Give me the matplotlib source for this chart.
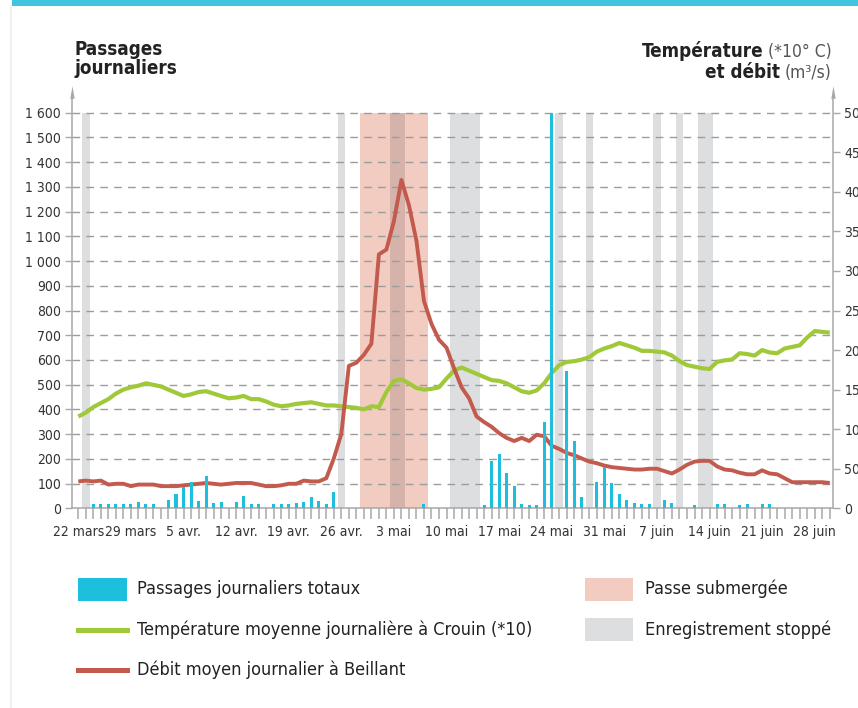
import numpy as np
import matplotlib
matplotlib.use("Agg")
import matplotlib.pyplot as plt
from matplotlib.patches import Rectangle
from matplotlib.lines import Line2D
from matplotlib.transforms import Affine2D
from matplotlib import font_manager

# ---------------- data ----------------
date_labels = ["22 mars", "29 mars", "5 avr.", "12 avr.", "19 avr.", "26 avr.",
               "3 mai", "10 mai", "17 mai", "24 mai", "31 mai", "7 juin",
               "14 juin", "21 juin", "28 juin"]
label_days = [0, 7, 14, 21, 28, 35, 42, 49, 56, 63, 70, 77, 84, 91, 98]

# daily passages (day 0 = 22 mars)
passages = [0, 0, 17, 17, 17, 17, 17, 17, 26, 17,
            17, 0, 33, 58, 85, 105, 30, 131, 22, 24,
            0, 24, 50, 18, 18, 0, 18, 18, 18, 22,
            25, 45, 30, 18, 66, 0, 0, 0, 0, 0,
            0, 0, 0, 0, 0, 0, 18, 0, 0, 0,
            0, 0, 0, 0, 13, 191, 220, 143, 90, 17,
            13, 13, 350, 1600, 0, 556, 273, 46, 0, 107,
            168, 101, 58, 34, 22, 17, 17, 0, 34, 23,
            0, 0, 13, 0, 0, 17, 17, 0, 13, 17,
            0, 17, 17, 0, 0, 0, 0, 0, 0, 0, 0]

# temperature (*10 °C), right axis
temperature_x10 = [116, 121, 128, 133, 138, 145, 150, 153, 155, 158,
                   156, 154, 150, 146, 142, 144, 147, 148, 145, 142,
                   139, 140, 142, 138, 138, 135, 131, 129, 130, 132,
                   133, 134, 132, 130, 130, 129, 128, 127, 125, 129,
                   128, 147, 161, 163, 158, 152, 150, 151, 153, 164,
                   174, 178, 174, 170, 166, 162, 161, 158, 153, 148,
                   146, 149, 158, 171, 181, 185, 186, 188, 191, 198,
                   202, 205, 209, 206, 203, 199, 199, 198, 197, 193,
                   186, 181, 179, 177, 176, 185, 187, 188, 196, 195,
                   193, 200, 197, 196, 202, 204, 206, 216, 224, 223, 222]

# flow (m3/s), right axis
debit = [34, 35, 34, 35, 30, 31, 31, 28, 30, 30,
         30, 28, 28, 28, 29, 30, 31, 32, 31, 30,
         31, 32, 32, 32, 30, 28, 28, 29, 31, 31,
         35, 34, 34, 38, 63, 94, 180, 184, 194, 208,
         321, 327, 363, 415, 383, 338, 262, 233, 213, 203,
         177, 153, 139, 116, 109, 103, 95, 89, 85, 89,
         85, 93, 91, 79, 75, 70, 67, 63, 59, 57,
         54, 52, 51, 50, 49, 49, 50, 50, 47, 44,
         49, 55, 59, 60, 60, 53, 49, 48, 45, 43,
         43, 48, 44, 43, 38, 33, 33, 33, 33, 33, 32]

stopped_days = [1, 35, 42, 43, 50, 51, 52, 53, 64, 68, 77, 80, 83, 84]
submerged_days = [38, 39, 40, 41, 42, 43, 44, 45, 46]

left_ticks = [0, 100, 200, 300, 400, 500, 600, 700, 800, 900, 1000,
              1100, 1200, 1300, 1400, 1500, 1600]
left_tick_labels = ["0", "100", "200", "300", "400", "500", "600", "700", "800",
                    "900", "1 000", "1 100", "1 200", "1 300", "1 400", "1 500", "1 600"]
right_ticks = [0, 50, 100, 150, 200, 250, 300, 350, 400, 450, 500]
RATIO = 3.2  # left units per right unit (1600 <-> 500)

# ---------------- style ----------------
names = {f.name for f in font_manager.fontManager.ttflist}
if "Liberation Sans Narrow" in names:
    FAM, STRETCH = "Liberation Sans Narrow", "normal"
else:
    FAM, STRETCH = "DejaVu Sans", "condensed"
plt.rcParams["font.family"] = [FAM, "DejaVu Sans"]
plt.rcParams["font.stretch"] = STRETCH

CYAN = "#1EBFDC"
BANNER = "#40C4E0"
GREEN = "#A0C93A"
RED = "#C35A4E"
PINK = "#F2CCC0"
GREY = "#DDDEE0"
OVERLAP = "#D5B3AB"
GRID = "#9C9C9C"
SPINE = "#A8A8A8"
TXT = "#222222"

W, H = 858, 708
fig = plt.figure(figsize=(W / 100, H / 100), dpi=100)


def fx(px):
    return px / W


def fy(py):
    return 1 - py / H


ax = fig.add_axes([fx(72.3), fy(508.3), (833.3 - 72.3) / W, (508.3 - 88) / H])
ax.set_xlim(-0.8, 100.47)
ax.set_ylim(0, 1700)

days = np.arange(len(passages))


def runs(values):
    values = sorted(values)
    out = []
    start = prev = values[0]
    for v in values[1:]:
        if v == prev + 1:
            prev = v
            continue
        out.append((start, prev))
        start = prev = v
    out.append((start, prev))
    return out


for a, b in runs(stopped_days):
    ax.add_patch(Rectangle((a - 0.5, 0), b - a + 1, 1600, facecolor=GREY, lw=0, zorder=0.5))
for a, b in runs(submerged_days):
    ax.add_patch(Rectangle((a - 0.5, 0), b - a + 1, 1600, facecolor=PINK, lw=0, zorder=0.6))
both = sorted(set(stopped_days) & set(submerged_days))
if both:
    for a, b in runs(both):
        ax.add_patch(Rectangle((a - 0.5, 0), b - a + 1, 1600, facecolor=OVERLAP, lw=0, zorder=0.7))

for v in left_ticks[1:]:
    ax.axhline(v, color=GRID, lw=1.0, ls=(0, (5.5, 4.5)), zorder=1)

tr = Affine2D().scale(1, RATIO) + ax.transData
ax.plot(days, temperature_x10, transform=tr, color=GREEN, lw=3.0, zorder=3,
        solid_joinstyle="round", solid_capstyle="butt")
ax.plot(days, debit, transform=tr, color=RED, lw=2.8, zorder=3,
        solid_joinstyle="round", solid_capstyle="butt")
ax.bar(days, passages, width=0.4, color=CYAN, lw=0, zorder=4)

# axes styling
for s in ("top", "right"):
    ax.spines[s].set_visible(False)
for s in ("left", "bottom"):
    ax.spines[s].set_color(SPINE)
    ax.spines[s].set_linewidth(1.1)
ax.spines["left"].set_bounds(0, 1660)

ax.set_yticks(left_ticks, labels=left_tick_labels)
ax.tick_params(axis="y", direction="out", length=5, width=1, color=SPINE,
               labelsize=10, labelcolor="#333333", pad=3)
ax.set_xticks(label_days, labels=date_labels)
ax.set_xticks(days, minor=True)
ax.tick_params(axis="x", which="both", direction="out", length=8, width=1.1,
               color=SPINE, labelsize=10, labelcolor="#333333", pad=4)

sec = ax.secondary_yaxis("right", functions=(lambda v: v / RATIO, lambda v: v * RATIO))
sec.set_yticks(right_ticks)
sec.spines["right"].set_color(SPINE)
sec.spines["right"].set_linewidth(1.1)
sec.spines["right"].set_bounds(0, 1660 / RATIO)
sec.tick_params(axis="y", direction="out", length=5, width=1, color=SPINE,
                labelsize=10, labelcolor="#333333", pad=3)

arrow = [(-0.35, -1), (0.35, -1), (0, 1)]
for xe in ax.get_xlim():
    ax.plot([xe], [1682], marker=arrow, ms=9, color=SPINE, mew=0,
            clip_on=False, zorder=5)

# ---------------- headers ----------------
fig.text(fx(74), fy(40), "Passages\njournaliers", ha="left", va="top",
         fontsize=13.5, fontweight="bold", color=TXT, linespacing=1.0)

renderer = fig.canvas.get_renderer()
for line_bold, line_reg, base in (("Température", "(*10° C)", 57),
                                  ("et débit", "(m³/s)", 78)):
    t = fig.text(fx(832), fy(base), line_reg, ha="right", va="baseline",
                 fontsize=12.5, color="#555555")
    bb = t.get_window_extent(renderer)
    fig.text(bb.x0 / W - 5 / W, fy(base), line_bold, ha="right", va="baseline",
             fontsize=13.5, fontweight="bold", color=TXT)

# ---------------- legend ----------------
LEG_FS = 13
fig.add_artist(Rectangle((fx(78), fy(601)), 49 / W, 23 / H, facecolor=CYAN, lw=0,
                         transform=fig.transFigure))
fig.text(fx(137), fy(589), "Passages journaliers totaux", va="center",
         fontsize=LEG_FS, color=TXT)
fig.add_artist(Line2D([fx(78), fx(127)], [fy(630), fy(630)], color=GREEN, lw=3.6,
                      transform=fig.transFigure))
fig.text(fx(137), fy(630), "Température moyenne journalière à Crouin (*10)", va="center",
         fontsize=LEG_FS, color=TXT)
fig.add_artist(Line2D([fx(78), fx(127)], [fy(670), fy(670)], color=RED, lw=3.6,
                      transform=fig.transFigure))
fig.text(fx(137), fy(670), "Débit moyen journalier à Beillant", va="center",
         fontsize=LEG_FS, color=TXT)
fig.add_artist(Rectangle((fx(585), fy(601)), 48 / W, 23 / H, facecolor=PINK, lw=0,
                         transform=fig.transFigure))
fig.text(fx(645), fy(589), "Passe submergée", va="center", fontsize=LEG_FS, color=TXT)
fig.add_artist(Rectangle((fx(585), fy(641)), 48 / W, 23 / H, facecolor=GREY, lw=0,
                         transform=fig.transFigure))
fig.text(fx(645), fy(630), "Enregistrement stoppé", va="center", fontsize=LEG_FS, color=TXT)

# ---------------- frame decorations ----------------
fig.add_artist(Rectangle((fx(12), fy(6)), (W - 12) / W, 6 / H, facecolor=BANNER, lw=0,
                         transform=fig.transFigure))
fig.add_artist(Line2D([fx(11), fx(11)], [0, fy(6)], color="#F1F1F1", lw=1.5,
                      transform=fig.transFigure))

fig.savefig("out.png", dpi=100)
